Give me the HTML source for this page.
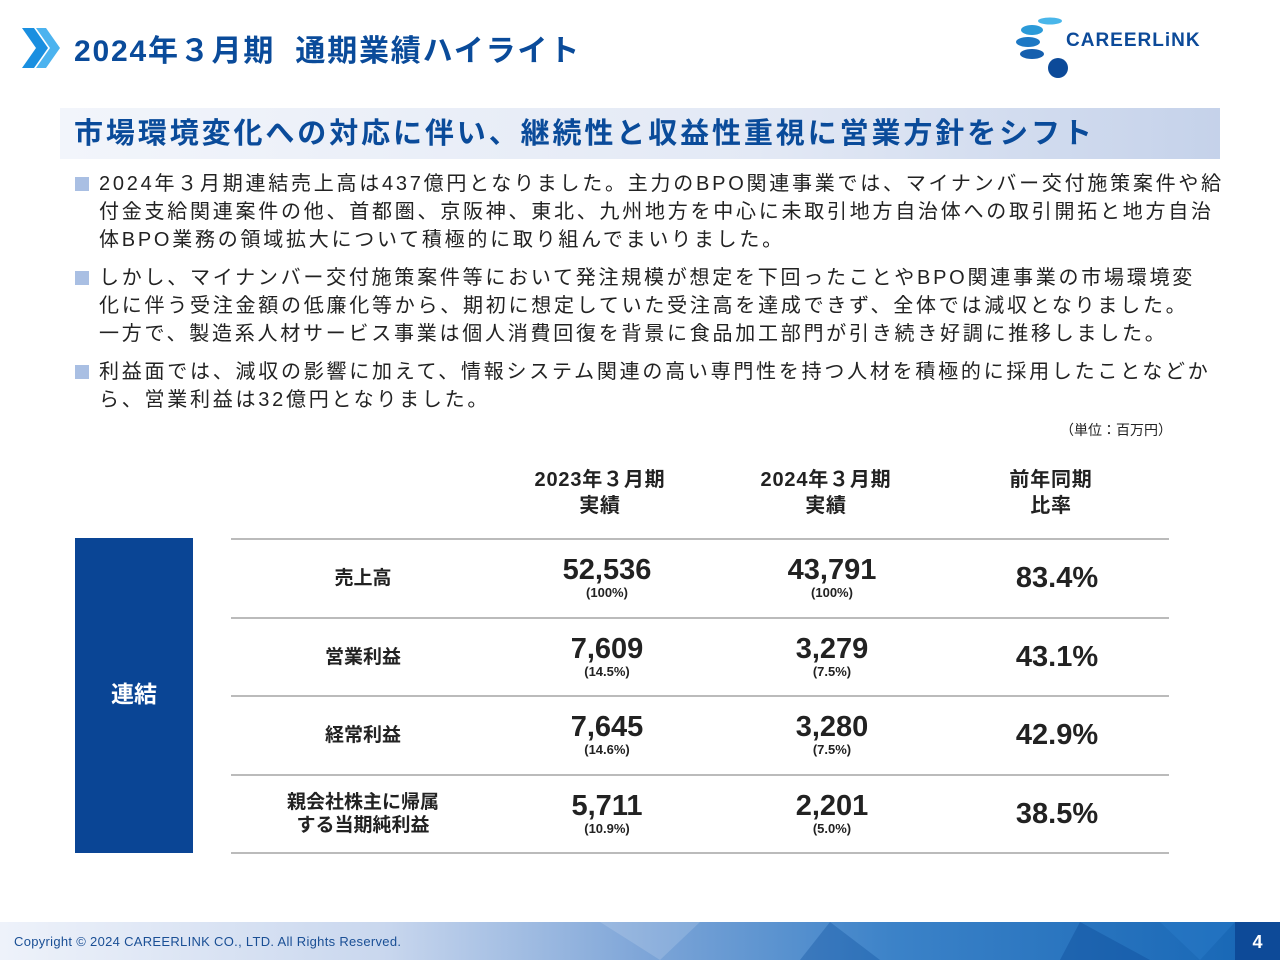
<!DOCTYPE html>
<html><head><meta charset="utf-8"><style>
*{margin:0;padding:0;box-sizing:border-box}
body{width:1280px;height:960px;position:relative;background:#fff;font-family:"Liberation Sans","Noto Sans CJK JP",sans-serif;overflow:hidden;color:#222}
.abs{position:absolute}
.title{left:74px;top:26px;font-size:30px;font-weight:bold;color:#0a4b9a;white-space:nowrap;letter-spacing:1.8px}
.sub{left:60px;top:108px;width:1160px;height:51px;background:linear-gradient(90deg,#f2f5fb 0%,#e3e9f5 60%,#c5d2ea 100%)}
.sub span{position:absolute;left:14px;top:2px;font-size:29px;font-weight:bold;color:#0a4b9a;white-space:nowrap;letter-spacing:2.9px}
.para{left:75px;font-size:20px;line-height:28px;white-space:nowrap;color:#222;letter-spacing:2.75px}
.para .b{position:absolute;left:0;top:7px;width:14px;height:14px;background:#a9bfe3}
.para .t{margin-left:24px}
.hd{font-size:20px;font-weight:bold;text-align:center;line-height:26px;width:200px;letter-spacing:0.8px}
.line{left:231px;width:938px;height:2px;background:#bbb}
.lbl{left:263px;width:200px;text-align:center;font-size:19px;font-weight:bold;line-height:23px}
.val{width:200px;text-align:center;font-weight:bold}
.val .n{font-size:29px;line-height:30px}
.val .p{font-size:13px;line-height:16px}
.ratio{width:200px;text-align:center;font-weight:bold;font-size:29px}
</style></head><body>
<svg class="abs" style="left:20px;top:28px" width="46" height="42">
<polygon points="2,0 14,0 28,20 14,40 2,40 16,20" fill="#1a8fe0"/>
<polygon points="16,0 26,0 40,20 26,40 16,40 30,20" fill="#4cb3ef"/>
</svg>
<div class="abs title">2024年３月期&nbsp; 通期業績ハイライト</div>
<svg class="abs" style="left:1010px;top:16px" width="220" height="64">
<ellipse cx="40" cy="5" rx="12" ry="3.5" fill="#49b6ea"/>
<ellipse cx="22" cy="14" rx="11" ry="5" fill="#2b9ad8"/>
<ellipse cx="18" cy="26" rx="12" ry="5" fill="#1d78c4"/>
<ellipse cx="22" cy="38" rx="12" ry="5" fill="#155fae"/>
<circle cx="48" cy="52" r="10" fill="#0c4a99"/>
<text x="56" y="30" font-family="Liberation Sans" font-weight="bold" font-size="19" fill="#0c4a99" letter-spacing="1">CAREERLiNK</text>
</svg>
<div class="abs sub"><span>市場環境変化への対応に伴い、継続性と収益性重視に営業方針をシフト</span></div>

<div class="abs para" style="top:170px"><div class="b"></div><div class="t">2024年３月期連結売上高は437億円となりました。主力のBPO関連事業では、マイナンバー交付施策案件や給<br>付金支給関連案件の他、首都圏、京阪神、東北、九州地方を中心に未取引地方自治体への取引開拓と地方自治<br>体BPO業務の領域拡大について積極的に取り組んでまいりました。</div></div>
<div class="abs para" style="top:264px"><div class="b"></div><div class="t">しかし、マイナンバー交付施策案件等において発注規模が想定を下回ったことやBPO関連事業の市場環境変<br>化に伴う受注金額の低廉化等から、期初に想定していた受注高を達成できず、全体では減収となりました。<br>一方で、製造系人材サービス事業は個人消費回復を背景に食品加工部門が引き続き好調に推移しました。</div></div>
<div class="abs para" style="top:358px"><div class="b"></div><div class="t">利益面では、減収の影響に加えて、情報システム関連の高い専門性を持つ人材を積極的に採用したことなどか<br>ら、営業利益は32億円となりました。</div></div>
<div class="abs" style="left:1060px;top:420px;font-size:14px">（単位：百万円）</div>

<div class="abs hd" style="left:500px;top:467px">2023年３月期<br>実績</div>
<div class="abs hd" style="left:726px;top:467px">2024年３月期<br>実績</div>
<div class="abs hd" style="left:951px;top:467px">前年同期<br>比率</div>
<div class="abs" style="left:75px;top:538px;width:118px;height:315px;background:#0a4595;color:#fff;font-size:23px;font-weight:bold;display:flex;align-items:center;justify-content:center;padding-bottom:8px">連結</div>
<div id="tbl"></div>

<div class="abs" style="left:0;top:922px;width:1280px;height:38px;background:linear-gradient(90deg,#eef2fa 0%,#c9d7ee 30%,#7fa6d8 50%,#3b82c8 70%,#1565b4 100%)"></div>
<svg class="abs" style="left:0;top:922px" width="1280" height="38">
<polygon points="600,0 700,0 660,38" fill="#fff" opacity="0.15"/>
<polygon points="830,0 880,38 800,38" fill="#0d4f9f" opacity="0.35"/>
<polygon points="1080,0 1150,38 1060,38" fill="#0d4a98" opacity="0.4"/>
<polygon points="1160,0 1235,0 1200,38" fill="#2d80cc" opacity="0.4"/>
</svg>
<div class="abs" style="left:14px;top:934px;font-size:13px;color:#1a4f95;letter-spacing:0.3px">Copyright © 2024 CAREERLINK CO., LTD. All Rights Reserved.</div>
<div class="abs" style="left:1235px;top:922px;width:45px;height:38px;background:#0d4a98;color:#fff;font-size:18px;font-weight:bold;text-align:center;line-height:40px">4</div>

<script>
const labels=["売上高","営業利益","経常利益","親会社株主に帰属<br>する当期純利益"];
const fy2023=["52,536","7,609","7,645","5,711"];
const fy2023pct=["(100%)","(14.5%)","(14.6%)","(10.9%)"];
const fy2024=["43,791","3,279","3,280","2,201"];
const fy2024pct=["(100%)","(7.5%)","(7.5%)","(5.0%)"];
const ratios=["83.4%","43.1%","42.9%","38.5%"];
const t=document.getElementById('tbl');
const top0=539,rh=78.5;
function add(html,cls,style,name){const d=document.createElement('div');d.className='abs '+cls;d.style.cssText=style;d.innerHTML=html;


t.appendChild(d);}
add('','line','top:'+(top0-1)+'px','row-line-top');
labels.forEach((l,i)=>{
 const y=top0+i*rh;
 const two=l.indexOf('<br>')>=0;
 add(l,'lbl','top:'+(y+(two?rh/2-23:rh/2-11))+'px','row-label');
 add('<div class="n">'+fy2023[i]+'</div><div class="p">'+fy2023pct[i]+'</div>','val','left:507px;top:'+(y+16)+'px','value-fy2023');
 add('<div class="n">'+fy2024[i]+'</div><div class="p">'+fy2024pct[i]+'</div>','val','left:732px;top:'+(y+16)+'px','value-fy2024');
 add(ratios[i],'ratio','left:957px;top:'+(y+23)+'px','value-ratio');
 add('','line','top:'+(y+rh-1)+'px','row-line');
});
</script>
</body></html>
